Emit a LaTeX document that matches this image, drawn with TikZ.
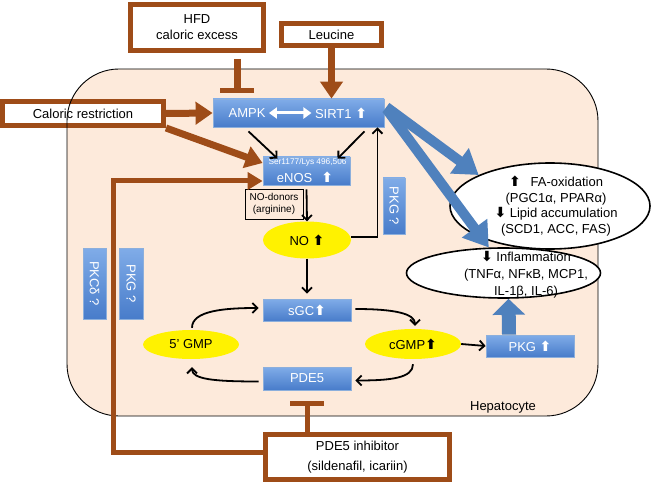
\documentclass[tikz,border=0pt]{standalone}
\usepackage{fontspec}
\setmainfont{Liberation Sans}
\newfontfamily\symfont{DejaVu Sans}
\usetikzlibrary{arrows.meta,shapes.geometric,calc}
\definecolor{brownc}{RGB}{158,76,24}
\definecolor{peach}{RGB}{253,234,219}
\definecolor{blueT}{RGB}{128,172,232}
\definecolor{blueB}{RGB}{72,124,202}
\definecolor{blueD}{RGB}{140,175,220}
\definecolor{bluearr}{RGB}{79,129,189}
\newcommand{\myup}{{\symfont\bfseries\fontsize{14}{16}\selectfont ⬆}}
\newcommand{\mydn}{{\symfont\bfseries\fontsize{14}{16}\selectfont ⬇}}
\begin{document}
\begin{tikzpicture}[x=1pt,y=-1pt,
  font=\fontsize{13}{16}\selectfont,
  brbox/.style={draw=brownc, line width=5pt, fill=white, align=center, inner sep=0pt},
  bluebox/.style={top color=blueT, bottom color=blueB, draw=blueD, line width=0.8pt, text=white, inner sep=0pt},
  yell/.style={ellipse, fill=yellow, inner sep=0pt},
  brarrow/.style={draw=brownc, line width=7pt, -{Triangle[width=22pt,length=17pt]}},
  brthin/.style={draw=brownc, line width=5pt, -{Triangle[width=17pt,length=15pt]}},
  inh/.style={draw=brownc, line width=7pt, -{Bar[width=34pt,line width=5pt]}},
  blkarr/.style={draw=black, line width=1.8pt, -{Straight Barb[length=5pt,width=10pt]}},
  bluearr/.style={draw=bluearr, line width=10pt, -{Triangle[width=30pt,length=24pt]}},
  bluearrv/.style={draw=bluearr, line width=14pt, -{Triangle[width=32pt,length=16pt]}}
]
\useasboundingbox (0,0) rectangle (652,486);
% hepatocyte fill
\fill[peach, rounded corners=52pt] (67,69) rectangle (598,416);
% caloric restriction box (outline of cell shows through)
\node[brbox, minimum width=161pt, minimum height=24pt] (cal) at (83,113.5) {Caloric restriction};
\draw[line width=0.9pt, rounded corners=52pt] (67,69) rectangle (598,416);

% input boxes
\node[brbox, minimum width=133pt, minimum height=46pt] (hfd) at (197,27.5) {HFD\\caloric excess};
\node[brbox, minimum width=100pt, minimum height=22pt] (leu) at (331.5,34.5) {Leucine};
\node[brbox, minimum width=184pt, minimum height=45pt, font=\fontsize{13}{20}\selectfont] (pinh) at (357.5,457) {PDE5 inhibitor\\(sildenafil, icariin)};

% AMPK / SIRT1
\node[bluebox, minimum width=171pt, minimum height=28pt] (ampk) at (298.5,113) {};
\node[text=white] (ampkt) at (247,113) {AMPK};
\node[text=white] (sirt) at (341,113) {SIRT1 \myup};
\draw[white, line width=3pt, {Triangle[width=11pt,length=8pt]}-{Triangle[width=11pt,length=8pt]}] (ampkt.east) -- (sirt.west);

% eNOS
\node[bluebox, minimum width=87pt, minimum height=28pt] (enos) at (306.5,171) {};
\node[text=white, font=\fontsize{8.3}{9}\selectfont] (ser) at (307.5,162.5) {Ser1177/Lys 496,506};
\node[text=white] (enost) at (305,177) {eNOS\hspace{9pt}\myup};

% NO donors and NO
\node[draw, line width=0.8pt, minimum width=58pt, minimum height=30pt, inner sep=1pt, align=center, font=\fontsize{10}{12}\selectfont] (nod) at (274,204) {NO-donors\\(arginine)};
\node[yell, minimum width=88pt, minimum height=37pt] (no) at (307,240) {NO \myup};

% PKG ? boxes
\node[bluebox, rotate=-90, minimum width=56pt, minimum height=22pt] (pkgq) at (394,206) {PKG ?};
\node[bluebox, rotate=-90, minimum width=71pt, minimum height=23pt] (pkcd) at (94.5,283.5) {PKCδ ?};
\node[bluebox, rotate=-90, minimum width=71pt, minimum height=24pt] (pkg2) at (131,283.5) {PKG ?};

% outcome ellipses
\node[ellipse, draw, line width=1.6pt, fill=white, minimum width=200pt, minimum height=86pt] (fa) at (550,206) {};
\node[align=center, font=\fontsize{13}{15.6}\selectfont] (fat) at (556,206) {\myup\hspace{10pt}FA-oxidation\\(PGC1α, PPARα)\\\mydn\ Lipid accumulation\\(SCD1, ACC, FAS)};
\node[ellipse, draw, line width=1.6pt, fill=white, minimum width=194pt, minimum height=50pt] (infl) at (503.5,273) {};
\node[align=center, font=\fontsize{13}{16.8}\selectfont] (inflt) at (526,275) {\mydn\ Inflammation\\(TNFα, NFκB, MCP1,\\IL-1β, IL-6)};

% cGMP cycle
\node[bluebox, minimum width=88pt, minimum height=22pt] (sgc) at (307,310) {sGC\myup};
\node[bluebox, minimum width=88pt, minimum height=23pt] (pde) at (307,378.5) {PDE5};
\node[yell, minimum width=96pt, minimum height=29pt] (gmp) at (191,344.5) {5' GMP};
\node[yell, minimum width=96pt, minimum height=30pt] (cgmp) at (413,344) {cGMP\myup};
\node[bluebox, minimum width=88pt, minimum height=22pt] (pkg) at (530,346) {PKG \myup};
\node (hep) at (503,407) {Hepatocyte};

% brown connectors
\coordinate (hfdi) at (237,59);
\draw[inh] (hfdi) -- ($(ampk.north -| hfdi)+(0,-6)$);
\draw[brarrow] (leu.south) -- (ampk.north -| leu.south);
\draw[brarrow] (cal.east) -- (ampk.west);
\draw[brarrow] (cal.south east) -- ($(enos.west)+(0,-8)$);
\coordinate (bc) at (113,181);
\draw[brthin] ($(pinh.west)+(0,-5)$) -| (bc) -- (enos.west |- bc);
\draw[inh, line width=5pt] (pinh.north -| pde.south) -- ($(pde.south)+(0,11)$);

% black connectors
\draw[blkarr] ($(ampk.south)+(-50,4)$) -- ($(enos.north)+(-29,2)$);
\draw[blkarr] ($(ampk.south)+(66,4)$) -- ($(enos.north)+(31,2)$);
\draw[blkarr] ($(enos.south)+(0,4)$) -- (no.north);
\draw[blkarr] ($(no.east)+(0,-3)$) -| ($(ampk.south east)+(-7,0)$);
\draw[blkarr, shorten >=5pt] (no.south) -- (sgc.north);
\draw[blkarr] ($(gmp.north)+(1,-2)$) .. controls +(0,-17) and +(-35,0) .. ($(sgc.west)+(-4,-2)$);
\draw[blkarr] ($(sgc.east)+(4,-1)$) .. controls +(40,0) and +(0,-12) .. ($(cgmp.north)+(2,-3)$);
\draw[blkarr] ($(cgmp.south)+(0,5)$) .. controls +(0,14) and +(35,0) .. ($(pde.east)+(4,2)$);
\draw[blkarr] ($(pde.west)+(-4,3)$) .. controls +(-45,0) and +(0,12) .. ($(gmp.south)+(1,8)$);
\draw[blkarr] (cgmp.east) -- (pkg.west);

% blue connectors
\draw[bluearr] ($(ampk.east)+(2,-6)$) -- (fa.north west);
\draw[bluearr] ($(ampk.east)+(2,-4)$) -- (infl.120);
\draw[bluearrv] ($(pkg.north)+(-21,0)$) -- ($(infl.south)+(5,0)$);
\end{tikzpicture}
\end{document}
